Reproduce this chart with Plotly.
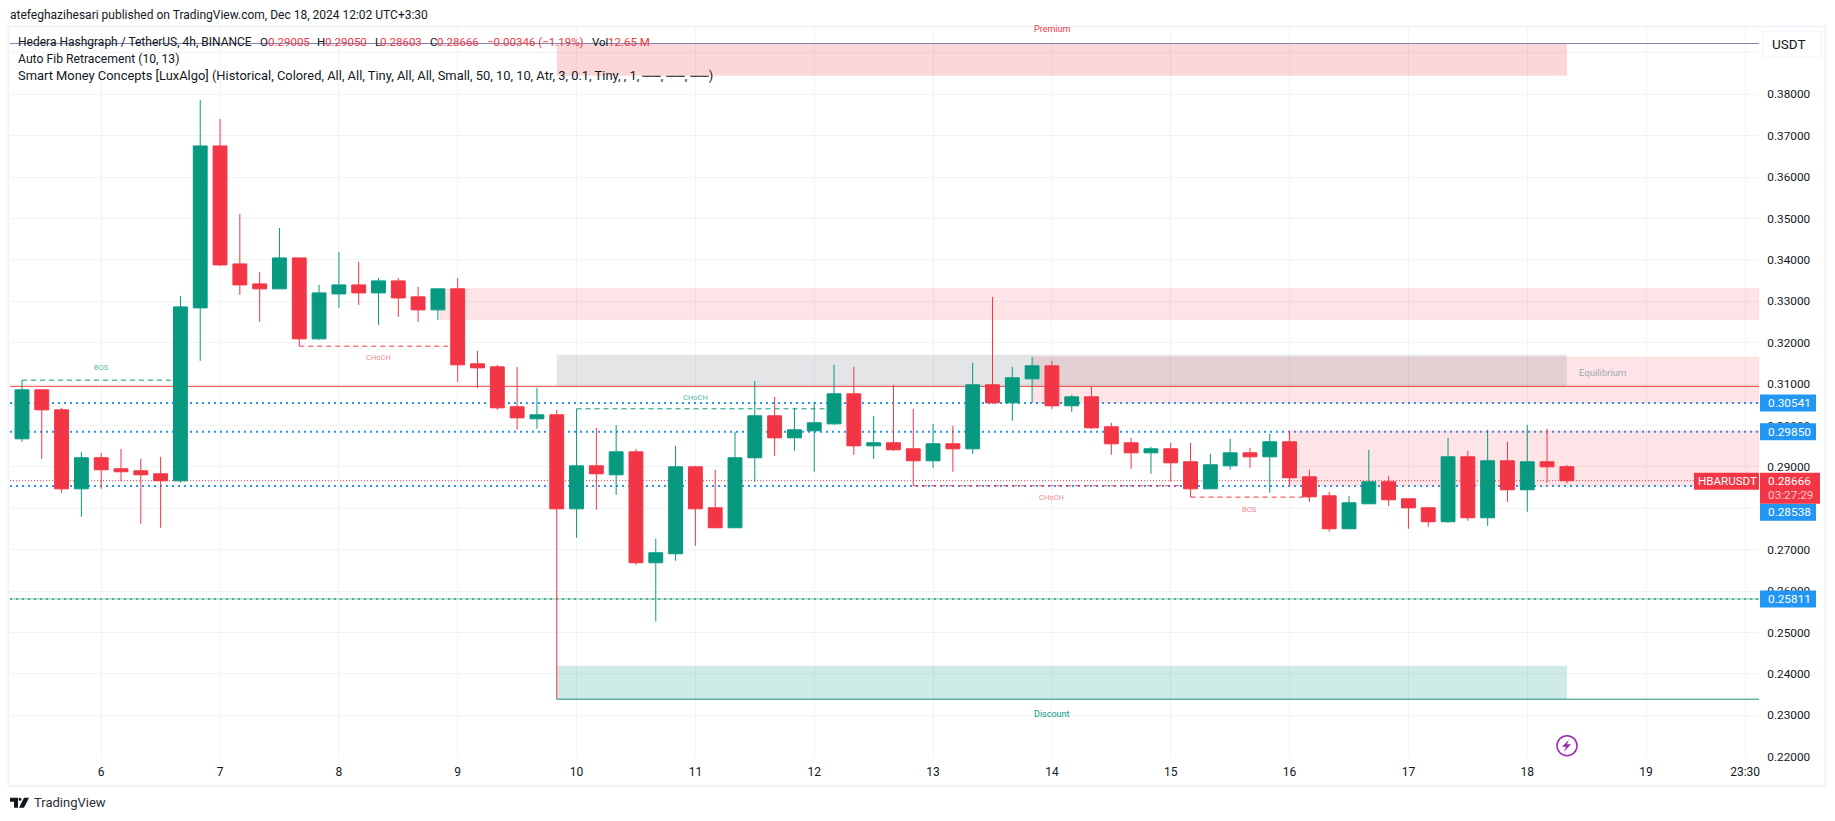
import plotly.graph_objects as go

CANDLE_INDEX = list(range(79))
OPENS = [.29678,.30861,.30378,.28471,.29220,.28954,.28906,.28833,.28664,.32841,
 .36752,.33903,.33420,.33300,.34048,.32093,.33179,.33396,.33203,.33493,
 .33107,.32793,.33300,.31489,.31417,.30451,.30161,.30258,.27988,.29026,
 .28809,.29364,.26685,.26902,.29002,.28012,.27530,.29220,.30234,.29702,
 .29871,.30040,.30765,.29509,.29582,.29437,.29147,.29558,.29437,.30982,
 .30547,.31127,.31441,.30475,.30692,.29968,.29582,.29340,.29437,.29123,
 .28471,.29026,.29340,.29244,.29606,.28761,.28302,.27505,.28109,.28640,
 .28230,.28012,.27675,.29244,.27771,.29147,.28447,.29123,.29005]
HIGHS = [.31095,.30861,.30427,.29364,.29340,.29437,.29195,.29244,.33131,.37863,
 .37404,.35110,.33710,.34772,.34048,.33396,.34193,.33952,.33565,.33565,
 .33348,.33300,.33565,.31803,.31465,.31417,.30910,.30378,.30403,.29944,
 .30016,.29437,.27264,.29509,.29026,.28930,.29847,.31079,.30692,.30427,
 .30572,.31465,.31417,.30234,.30982,.30403,.30040,.29992,.31513,.33107,
 .31417,.31658,.31561,.30741,.30934,.30065,.29702,.29485,.29582,.29582,
 .29316,.29678,.29461,.29799,.29871,.28930,.28399,.28302,.29413,.28785,
 .28230,.28037,.29702,.29389,.29896,.29606,.30016,.29920,.29050]
LOWS = [.29606,.29195,.28375,.27795,.28471,.28648,.27626,.27530,.28616,.31561,
 .33855,.33155,.32503,.33300,.31916,.32068,.32841,.32913,.32431,.32624,
 .32503,.32551,.31054,.30910,.30378,.29896,.29920,.23393,.27288,.27964,
 .28326,.26636,.25268,.26733,.27095,.27530,.27530,.28640,.29268,.29389,
 .28882,.30016,.29292,.29195,.29389,.28544,.28978,.28882,.29316,.30523,
 .30113,.30547,.30403,.30330,.29920,.29292,.28954,.28833,.28640,.28270,
 .28471,.28930,.28978,.28375,.28544,.28157,.27433,.27505,.28109,.28061,
 .27505,.27554,.27650,.27699,.27578,.28157,.27916,.28616,.28603]
CLOSES = [.30861,.30378,.28471,.29220,.28930,.28882,.28809,.28664,.32865,.36752,
 .33879,.33396,.33300,.34048,.32093,.33203,.33396,.33203,.33493,.33082,
 .32793,.33300,.31465,.31392,.30427,.30185,.30258,.27988,.29026,.28833,
 .29364,.26685,.26926,.29002,.27988,.27530,.29220,.30234,.29702,.29896,
 .30065,.30765,.29509,.29582,.29413,.29147,.29558,.29437,.30982,.30547,
 .31151,.31441,.30475,.30692,.29944,.29558,.29340,.29437,.29099,.28471,
 .29051,.29340,.29244,.29606,.28737,.28278,.27505,.28133,.28640,.28206,
 .28012,.27675,.29244,.27771,.29147,.28447,.29123,.29002,.28666]

DAY_TICK_INDEX = [4,10,16,22,28,34,40,46,52,58,64,70,76,82,87]
DAY_TICK_LABELS = ["6","7","8","9","10","11","12","13","14","15","16","17","18","19","23:30"]
PRICE_TICKS = [.22,.23,.24,.25,.26,.27,.28,.29,.30,.31,.32,.33,.34,.35,.36,.37,.38,.39]
PRICE_TICK_LABELS = ["0.22000","0.23000","0.24000","0.25000","0.26000","0.27000","","0.29000","0.30000",
                     "0.31000","0.32000","0.33000","0.34000","0.35000","0.36000","0.37000","0.38000",""]

X_MIN, X_MAX = -0.6045, 87.70
Y_MIN, Y_MAX = 0.21993, 0.39601

LEVEL_BLUE = [0.30541, 0.29850, 0.28538, 0.25811]
LAST_PRICE = 0.28666
LEVEL_RED = 0.30946
LEVEL_GREEN = 0.25811
LEVEL_TOP = 0.39226
LEVEL_BOTTOM = 0.23389

# zones: (first bar, last bar, upper price, lower price)
ZONE_PREMIUM = (27, 78, 0.39226, 0.38449)
ZONE_EQUILIBRIUM = (27, 78, 0.31706, 0.30946)
ZONE_DISCOUNT = (27, 78, 0.24197, 0.23389)
ZONES_SUPPLY = [(21.1, X_MAX, 0.33300, 0.32559), (51.05, X_MAX, 0.31650, 0.30547), (63.95, X_MAX, 0.29871, 0.28552)]

# structure breaks: (first bar, last bar, price, label, label bar, label price, colour key)
STRUCTURE = [
 (0, 8, 0.31095, "BOS", 4, 0.31400, "g"),
 (14, 22, 0.31916, "CHoCH", 18, 0.31650, "r"),
 (28, 41, 0.30403, "CHoCH", 34, 0.30685, "g"),
 (45, 59, 0.28544, "CHoCH", 52, 0.28270, "r"),
 (59, 65, 0.28270, "BOS", 62, 0.27981, "r"),
]

GREEN = "#089981"
RED = "#F23645"
BLUE = "#2196F3"
INK = "#131722"
GRID = "#F2F3F5"
FRAME = "#F0F3FA"
FONT = "Roboto, sans-serif"
W, H = 1835, 821

fig = go.Figure()
fig.add_trace(go.Candlestick(
    x=CANDLE_INDEX, open=OPENS, high=HIGHS, low=LOWS, close=CLOSES,
    increasing=dict(line=dict(color=GREEN, width=1), fillcolor=GREEN),
    decreasing=dict(line=dict(color=RED, width=1), fillcolor=RED),
    whiskerwidth=0, showlegend=False, hoverinfo="skip"))

shapes, ann = [], []

def hline(x0, x1, y, color, width=1, dash="solid"):
    shapes.append(dict(type="line", xref="x", yref="y", x0=x0, x1=x1, y0=y, y1=y, layer="between",
                       line=dict(color=color, width=width, dash=dash)))

def zone(z, fill, line=None):
    shapes.append(dict(type="rect", xref="x", yref="y", x0=z[0], x1=z[1], y0=z[3], y1=z[2], layer="between",
                       fillcolor=fill, line=dict(color=line or "rgba(0,0,0,0)", width=1 if line else 0)))

def px(x, y, **kw):
    """Text placed in page pixels."""
    base = dict(xref="paper", yref="paper", x=(x-10)/(1759-10), y=(757.3-y)/(757.3-28),
                showarrow=False, xanchor="left", yanchor="middle", borderpad=0, borderwidth=0,
                font=dict(family=FONT, size=12, color=INK))
    f = kw.pop("font", None)
    if f: base["font"] = {**base["font"], **f}
    base.update(kw)
    ann.append(base)

def rect_px(x0, y0, x1, y1, fill, line=None, layer="above"):
    shapes.append(dict(type="rect", xref="paper", yref="paper",
        x0=(x0-10)/(1749), x1=(x1-10)/(1749), y0=(757.3-y0)/729.3, y1=(757.3-y1)/729.3,
        fillcolor=fill, layer=layer, line=dict(color=line or "rgba(0,0,0,0)", width=1 if line else 0)))

for lv in LEVEL_BLUE:
    hline(X_MIN, X_MAX, lv, BLUE, 2, "2px,4px")
hline(X_MIN, X_MAX, LEVEL_GREEN, "#81C784", 1)
hline(X_MIN, X_MAX, LAST_PRICE, RED, 1, "1px,2px")

for z in ZONES_SUPPLY:
    zone(z, "rgba(242,54,69,0.13)", "rgba(242,54,69,0.10)")
zone(ZONE_PREMIUM, "rgba(242,54,69,0.20)")
zone(ZONE_EQUILIBRIUM, "rgba(120,123,134,0.20)")
zone(ZONE_DISCOUNT, "rgba(8,153,129,0.20)")

hline(X_MIN, X_MAX, LEVEL_TOP, "#8184B4", 1)
hline(X_MIN, X_MAX, LEVEL_RED, "#F44336", 1)
hline(27, X_MAX, LEVEL_BOTTOM, "#1F8E7F", 1)

for x0, x1, p, label, lx, lp, key in STRUCTURE:
    c = GREEN if key == "g" else RED
    hline(x0, x1, p, c, 1, "5px,4px")
    ann.append(dict(xref="x", yref="y", x=lx, y=lp, text=label, showarrow=False,
                    font=dict(family=FONT, size=7.5, color="rgba(8,153,129,0.75)" if key == "g" else "rgba(242,54,69,0.65)")))

ann.append(dict(xref="x", yref="y", x=52, y=0.3958, text="Premium", showarrow=False, borderpad=0,
                font=dict(family=FONT, size=9, color=RED)))
ann.append(dict(xref="x", yref="y", x=79.8, y=0.3127, text="Equilibrium", showarrow=False,
                font=dict(family=FONT, size=9.5, color="#A3A6AF")))
ann.append(dict(xref="x", yref="y", x=52, y=0.2302, text="Discount", showarrow=False,
                font=dict(family=FONT, size=9, color=GREEN)))

# header and legend
px(10, 15, text="atefeghazihesari published on TradingView.com, Dec 18, 2024 12:02 UTC+3:30", font=dict(size=12))
px(18, 42, text="Hedera Hashgraph / TetherUS, 4h, BINANCE", font=dict(size=12))
for x, t, c in [(260,"O",INK),(268,"0.29005",RED),(317,"H",INK),(325,"0.29050",RED),(375,"L",INK),(380,"0.28603",RED),
                (430,"C",INK),(437,"0.28666",RED),(487,"−0.00346 (−1.19%)",RED),(591.5,"Vol",INK),(608,"12.65 M",RED)]:
    px(x, 42, text=t, font=dict(color=c, size=11.5))
px(18, 59, text="Auto Fib Retracement (10, 13)", font=dict(size=12.2))
px(18, 76, text="Smart Money Concepts [LuxAlgo] (Historical, Colored, All, All, Tiny, All, All, Small, 50, 10, 10, Atr, 3, 0.1, Tiny, , 1, ──, ──, ──)", font=dict(size=12.9))

# frame
rect_px(8.5, 26.5, 1825.5, 786, "rgba(0,0,0,0)", None)
shapes[-1]["line"] = dict(color=FRAME, width=2)

# USDT button
rect_px(1763, 31, 1821, 57, "#FFFFFF", FRAME)
px(1772, 44, text="USDT", font=dict(size=13.5))

# price labels
LABEL_OFFSET = {0.28538: 512.5}
for lv in LEVEL_BLUE:
    yy = LABEL_OFFSET.get(lv, 94.3 + (0.38 - lv) * 4142)
    rect_px(1760, yy-8.5, 1816, yy+8.5, BLUE)
    px(1768, yy, text=f"{lv:.5f}", font=dict(color="#FFFFFF", size=11.8))

rect_px(1694, 473, 1759, 490, RED)
px(1698, 481.5, text="HBARUSDT", font=dict(color="#FFFFFF", size=11.6))
rect_px(1760, 473, 1820, 504, RED)
px(1768, 481.5, text=f"{LAST_PRICE:.5f}", font=dict(color="#FFFFFF", size=11.8))
px(1768, 495.5, text="03:27:29", font=dict(color="#FBC4C9", size=11.8))

# lightning badge
rect_px(1557, 736, 1577, 756, "#FFFFFF", None)
shapes[-1].update(type="circle", line=dict(color="#9C27B0", width=1.5))
def P(x, y): return f"{(x-10)/1749:.5f},{(757.3-y)/729.3:.5f}"
shapes.append(dict(type="path", xref="paper", yref="paper", fillcolor="#9C27B0", line=dict(width=0),
    path="M"+" L".join(P(*q) for q in [(1569,740),(1562,747),(1566,747),(1564,752),(1571,744.5),(1567,744.5)])+" Z"))

# TradingView mark
shapes.append(dict(type="path", xref="paper", yref="paper", fillcolor=INK, line=dict(width=0),
    path="M"+" L".join(P(*q) for q in [(10,798),(18,798),(18,808),(14,808),(14,802),(10,802)])+" Z"))
shapes.append(dict(type="circle", xref="paper", yref="paper", fillcolor=INK, line=dict(width=0),
    x0=(18.5-10)/1749, x1=(21.5-10)/1749, y0=(757.3-801)/729.3, y1=(757.3-798)/729.3))
shapes.append(dict(type="path", xref="paper", yref="paper", fillcolor=INK, line=dict(width=0),
    path="M"+" L".join(P(*q) for q in [(24,798),(29,798),(24,808),(19,808)])+" Z"))
px(33.5, 803, text="TradingView", font=dict(size=13, color="#2A2E39"))

fig.update_layout(
    width=W, height=H, autosize=False,
    margin=dict(l=10, r=76, t=28, b=63.7, pad=0),
    paper_bgcolor="#FFFFFF", plot_bgcolor="#FFFFFF",
    font=dict(family=FONT, size=12, color=INK),
    boxgap=0.3, boxgroupgap=0,
    showlegend=False, shapes=shapes, annotations=ann,
    xaxis=dict(type="linear", range=[X_MIN, X_MAX], rangeslider=dict(visible=False),
               tickmode="array", tickvals=DAY_TICK_INDEX, ticktext=DAY_TICK_LABELS,
               showgrid=True, gridcolor=GRID, gridwidth=1, zeroline=False, showline=False,
               ticks="outside", ticklen=4, tickcolor="rgba(0,0,0,0)",
               tickfont=dict(family=FONT, size=12, color=INK)),
    yaxis=dict(type="linear", side="right", range=[Y_MIN, Y_MAX],
               tickmode="array", tickvals=PRICE_TICKS, ticktext=PRICE_TICK_LABELS,
               showgrid=True, gridcolor=GRID, gridwidth=1, zeroline=False, showline=False,
               ticks="outside", ticklen=5, tickcolor="rgba(0,0,0,0)",
               tickfont=dict(family=FONT, size=11.8, color=INK)),
)

fig.write_html("out.html", config=dict(displayModeBar=False),
               post_script="document.body.style.margin='0';")
